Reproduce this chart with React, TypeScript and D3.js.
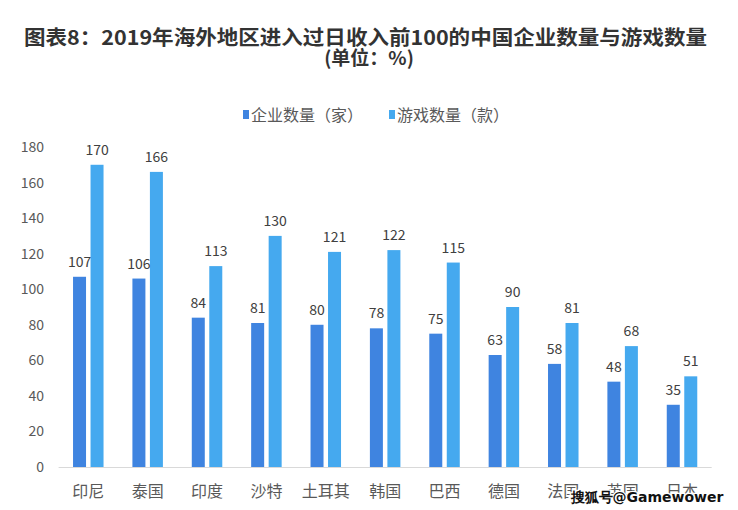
import React from "react";
import * as d3 from "d3";

const categories = ["印尼", "泰国", "印度", "沙特", "土耳其", "韩国", "巴西", "德国", "法国", "英国", "日本"];
const companies = [107, 106, 84, 81, 80, 78, 75, 63, 58, 48, 35];
const games = [170, 166, 113, 130, 121, 122, 115, 90, 81, 68, 51];
const yTicks = [0, 20, 40, 60, 80, 100, 120, 140, 160, 180];
const seriesNames = ["企业数量（家）", "游戏数量（款）"];
const colors = ["#3f84e0", "#45a9ef"];

export default function App() {
  const W = 738, H = 510;
  const left = 58.6, right = 711.7, top = 147, bottom = 467;
  const x = d3.scaleBand<string>().domain(categories).range([left, right]);
  const y = d3.scaleLinear().domain([0, 180]).range([bottom, top]);
  const barW = 13, gap = 4.5;
  const font = "'Noto Sans CJK SC', 'Noto Sans', sans-serif";
  return (
    <svg width={W} height={H} style={{ position: "absolute", left: 0, top: 0, background: "#fff" }} fontFamily={font}>
      <rect width={W} height={H} fill="#fff" />
      <text x={24} y={45} textLength={683} lengthAdjust="spacingAndGlyphs" fontSize={20} fontWeight="bold" fill="#333">图表8：2019年海外地区进入过日收入前100的中国企业数量与游戏数量</text>
      <text x={369} y={65} textAnchor="middle" fontSize={19} fontWeight="bold" fill="#333">(单位：%)</text>
      {seriesNames.map((n, i) => {
        const lx = i === 0 ? 243 : 389;
        return (
          <g key={n}>
            <rect x={lx} y={110} width={6} height={9} fill={colors[i]} />
            <text x={lx + 8} y={121} fontSize={16} fill="#595959">{n}</text>
          </g>
        );
      })}
      {yTicks.map(t => (
        <text key={t} x={44} y={y(t) + 5} textAnchor="end" fontSize={14} fill="#595959">{t}</text>
      ))}
      <line x1={left} x2={right} y1={bottom + 0.5} y2={bottom + 0.5} stroke="#d9d9d9" />
      {categories.map((c, i) => {
        const cx = (x(c) as number) + x.bandwidth() / 2;
        const x1 = cx - gap / 2 - barW;
        const x2 = cx + gap / 2;
        return (
          <g key={c}>
            <rect x={x1} y={y(companies[i])} width={barW} height={bottom - y(companies[i])} fill={colors[0]} />
            <rect x={x2} y={y(games[i])} width={barW} height={bottom - y(games[i])} fill={colors[1]} />
            <text x={x1 + barW / 2} y={y(companies[i]) - 10} textAnchor="middle" fontSize={14} fill="#404040">{companies[i]}</text>
            <text x={x2 + barW / 2} y={y(games[i]) - 10} textAnchor="middle" fontSize={14} fill="#404040">{games[i]}</text>
            <text x={cx} y={497} textAnchor="middle" fontSize={16} fill="#595959">{c}</text>
          </g>
        );
      })}
      <text x={647} y={502} textAnchor="middle" fontSize={14} fontWeight="600" fill="#111" stroke="#fff" strokeWidth={2.5} paintOrder="stroke" fontFamily="'DejaVu Sans', sans-serif">搜狐号@Gamewower</text>
    </svg>
  );
}
